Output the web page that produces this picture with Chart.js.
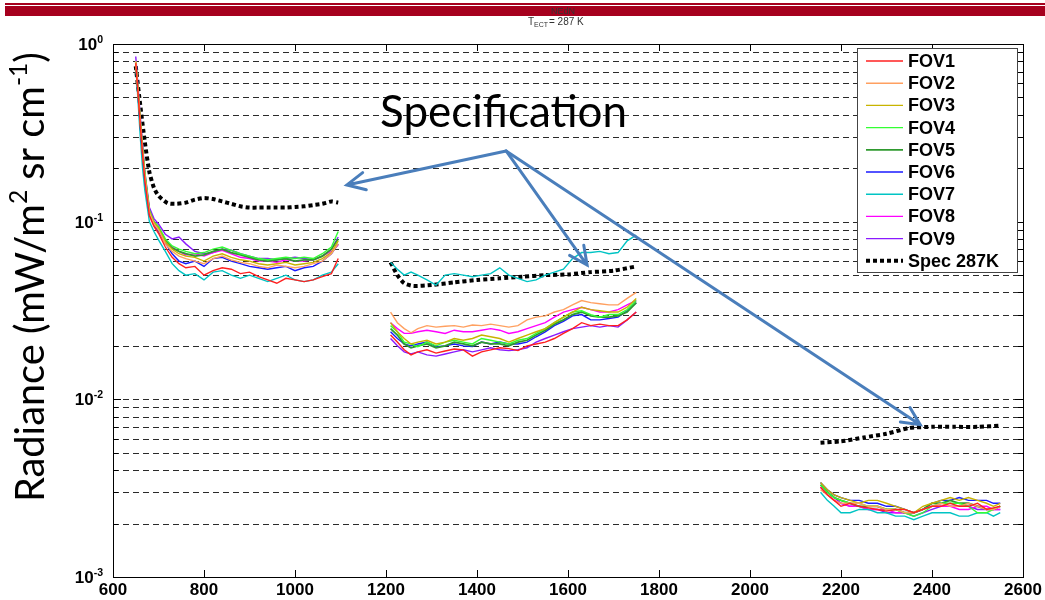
<!DOCTYPE html>
<html>
<head>
<meta charset="utf-8">
<title>NEdN</title>
<script src="https://cdn.jsdelivr.net/npm/chart.js@4.4.1/dist/chart.umd.min.js"></script>
<style>
  html, body { margin: 0; padding: 0; background: #fff; }
  #wrap { width: 1045px; height: 600px; }
</style>
</head>
<body>
<div id="wrap"><canvas id="nedn" width="1045" height="600"></canvas></div>
<script>
// etiquetas de la leyenda
const fovNames = ['FOV1', 'FOV2', 'FOV3', 'FOV4', 'FOV5', 'FOV6', 'FOV7', 'FOV8', 'FOV9'];
const fovColors = ['#ff2020', '#ffa060', '#c8b400', '#33ff33', '#2f9a2f', '#1a1aff', '#00c4c4', '#ff00ff', '#8a1aff'];

// numero de onda (cm-1) de cada banda
const bandX1 = [650, 655, 660, 665, 670, 680, 690, 700, 715, 730, 745, 760, 780, 800, 820, 840, 860, 880, 900, 920, 940, 960, 980, 1000, 1020, 1040, 1060, 1080, 1095];
const bandX2 = [1210, 1225, 1240, 1255, 1270, 1290, 1310, 1330, 1350, 1370, 1390, 1410, 1430, 1450, 1470, 1490, 1510, 1530, 1550, 1570, 1590, 1610, 1630, 1650, 1670, 1690, 1710, 1730, 1750];
const bandX3 = [2155, 2170, 2185, 2200, 2220, 2240, 2260, 2280, 2300, 2320, 2340, 2360, 2380, 2400, 2420, 2440, 2460, 2480, 2500, 2520, 2535, 2550];

// NEdN por FOV, banda LW
const band1Values = [
  [0.78, 0.53, 0.35, 0.24, 0.17, 0.108, 0.094, 0.086, 0.072, 0.063, 0.058, 0.055, 0.056, 0.05, 0.053, 0.055, 0.054, 0.051, 0.052, 0.049, 0.047, 0.045, 0.048, 0.047, 0.046, 0.047, 0.049, 0.051, 0.062],
  [0.8, 0.54, 0.36, 0.25, 0.18, 0.112, 0.097, 0.09, 0.075, 0.068, 0.064, 0.062, 0.06, 0.058, 0.062, 0.064, 0.061, 0.059, 0.058, 0.056, 0.055, 0.057, 0.056, 0.055, 0.056, 0.058, 0.06, 0.066, 0.075],
  [0.79, 0.55, 0.37, 0.25, 0.18, 0.114, 0.099, 0.092, 0.077, 0.07, 0.066, 0.064, 0.063, 0.06, 0.064, 0.066, 0.063, 0.061, 0.06, 0.058, 0.057, 0.058, 0.059, 0.057, 0.058, 0.059, 0.062, 0.067, 0.078],
  [0.8, 0.55, 0.37, 0.26, 0.19, 0.116, 0.1, 0.094, 0.08, 0.073, 0.07, 0.068, 0.066, 0.067, 0.07, 0.072, 0.069, 0.066, 0.064, 0.062, 0.061, 0.062, 0.063, 0.062, 0.063, 0.062, 0.066, 0.072, 0.088],
  [0.79, 0.54, 0.36, 0.25, 0.18, 0.114, 0.099, 0.093, 0.078, 0.071, 0.068, 0.066, 0.064, 0.065, 0.068, 0.07, 0.067, 0.065, 0.063, 0.061, 0.06, 0.061, 0.062, 0.06, 0.061, 0.061, 0.064, 0.07, 0.08],
  [0.78, 0.52, 0.34, 0.24, 0.17, 0.11, 0.096, 0.088, 0.076, 0.066, 0.06, 0.058, 0.06, 0.056, 0.062, 0.063, 0.06, 0.058, 0.056, 0.055, 0.054, 0.055, 0.056, 0.053, 0.055, 0.056, 0.06, 0.066, 0.075],
  [0.77, 0.48, 0.3, 0.2, 0.15, 0.1, 0.088, 0.079, 0.068, 0.058, 0.053, 0.05, 0.051, 0.047, 0.052, 0.053, 0.05, 0.048, 0.05, 0.048, 0.046, 0.048, 0.05, 0.047, 0.046, 0.047, 0.05, 0.052, 0.058],
  [0.8, 0.55, 0.37, 0.26, 0.18, 0.115, 0.1, 0.093, 0.079, 0.072, 0.068, 0.065, 0.066, 0.064, 0.067, 0.069, 0.066, 0.063, 0.062, 0.06, 0.06, 0.059, 0.061, 0.06, 0.06, 0.061, 0.064, 0.068, 0.074],
  [0.85, 0.58, 0.39, 0.27, 0.19, 0.12, 0.104, 0.097, 0.085, 0.08, 0.082, 0.075, 0.068, 0.066, 0.067, 0.07, 0.069, 0.066, 0.064, 0.062, 0.062, 0.061, 0.062, 0.063, 0.062, 0.061, 0.064, 0.07, 0.082]
];

// NEdN por FOV, banda MW
const band2Values = [
  [0.023, 0.021, 0.019, 0.0178, 0.0185, 0.019, 0.0182, 0.0187, 0.0192, 0.019, 0.0175, 0.0185, 0.019, 0.0195, 0.0193, 0.0188, 0.02, 0.0205, 0.021, 0.022, 0.0235, 0.025, 0.027, 0.026, 0.0265, 0.026, 0.026, 0.028, 0.031],
  [0.031, 0.027, 0.025, 0.0237, 0.025, 0.026, 0.0255, 0.0258, 0.026, 0.0255, 0.0262, 0.026, 0.0265, 0.026, 0.0255, 0.026, 0.028, 0.029, 0.0295, 0.031, 0.032, 0.034, 0.036, 0.035, 0.0345, 0.034, 0.034, 0.037, 0.04],
  [0.027, 0.024, 0.022, 0.0205, 0.021, 0.0215, 0.0205, 0.021, 0.022, 0.0215, 0.022, 0.023, 0.0225, 0.022, 0.021, 0.022, 0.023, 0.024, 0.025, 0.027, 0.029, 0.031, 0.033, 0.032, 0.0315, 0.031, 0.031, 0.033, 0.037],
  [0.026, 0.024, 0.021, 0.0205, 0.0198, 0.021, 0.02, 0.021, 0.0215, 0.021, 0.0205, 0.022, 0.0215, 0.021, 0.0205, 0.0215, 0.022, 0.0235, 0.025, 0.027, 0.029, 0.031, 0.0315, 0.03, 0.029, 0.03, 0.03, 0.032, 0.036],
  [0.025, 0.023, 0.0205, 0.0195, 0.02, 0.0205, 0.0195, 0.02, 0.021, 0.0205, 0.02, 0.021, 0.0205, 0.0205, 0.02, 0.021, 0.0215, 0.023, 0.0245, 0.0265, 0.028, 0.03, 0.031, 0.0295, 0.029, 0.029, 0.0295, 0.031, 0.035],
  [0.024, 0.022, 0.0205, 0.02, 0.0205, 0.021, 0.0198, 0.02, 0.0205, 0.02, 0.0198, 0.021, 0.0205, 0.021, 0.0205, 0.0205, 0.021, 0.0225, 0.024, 0.026, 0.0275, 0.0295, 0.03, 0.028, 0.028, 0.0285, 0.029, 0.0315, 0.035],
  [0.059, 0.054, 0.05, 0.052, 0.05, 0.047, 0.044, 0.05, 0.051, 0.05, 0.049, 0.05, 0.051, 0.055, 0.05, 0.048, 0.046, 0.047, 0.05, 0.052, 0.054, 0.062, 0.067, 0.067, 0.068, 0.066, 0.067, 0.078, 0.084],
  [0.027, 0.025, 0.0235, 0.0235, 0.024, 0.0245, 0.024, 0.0235, 0.0245, 0.024, 0.024, 0.0245, 0.025, 0.0245, 0.0235, 0.024, 0.025, 0.026, 0.027, 0.029, 0.031, 0.032, 0.033, 0.032, 0.031, 0.031, 0.032, 0.034, 0.036],
  [0.022, 0.02, 0.0185, 0.018, 0.0185, 0.0178, 0.0175, 0.018, 0.0185, 0.019, 0.0185, 0.019, 0.0195, 0.019, 0.0188, 0.019, 0.0195, 0.021, 0.022, 0.023, 0.024, 0.025, 0.0255, 0.026, 0.0255, 0.026, 0.0255, 0.028, 0.031]
];

// NEdN por FOV, banda SW
const band3Values = [
  [0.0032, 0.0029, 0.0027, 0.0025, 0.0026, 0.0025, 0.00245, 0.0024, 0.00235, 0.0024, 0.0024, 0.0023, 0.0024, 0.0025, 0.0025, 0.0026, 0.0025, 0.0025, 0.0026, 0.0024, 0.00245, 0.0025],
  [0.0031, 0.0029, 0.0027, 0.0026, 0.0026, 0.0026, 0.0025, 0.0025, 0.0024, 0.0024, 0.0023, 0.0023, 0.0024, 0.0025, 0.0026, 0.0025, 0.0025, 0.0026, 0.0025, 0.0024, 0.0024, 0.0025],
  [0.0034, 0.0031, 0.0029, 0.0028, 0.0027, 0.0026, 0.0027, 0.0027, 0.0026, 0.0025, 0.0024, 0.0023, 0.0025, 0.0026, 0.0027, 0.0028, 0.0027, 0.0028, 0.0027, 0.0026, 0.0025, 0.0026],
  [0.0033, 0.003, 0.0028, 0.0027, 0.0026, 0.0026, 0.0025, 0.0025, 0.0024, 0.0024, 0.0023, 0.0022, 0.0023, 0.0025, 0.0026, 0.0026, 0.0026, 0.0025, 0.0023, 0.0023, 0.0024, 0.0025],
  [0.0033, 0.003, 0.0028, 0.0027, 0.0026, 0.0025, 0.0025, 0.0025, 0.0024, 0.0024, 0.0023, 0.0023, 0.0024, 0.0026, 0.0026, 0.0027, 0.0026, 0.0026, 0.0025, 0.0024, 0.0024, 0.0025],
  [0.0034, 0.0031, 0.0029, 0.0028, 0.0027, 0.0027, 0.0026, 0.0026, 0.0025, 0.0025, 0.0024, 0.0023, 0.0024, 0.0026, 0.0027, 0.0027, 0.0028, 0.0027, 0.0027, 0.0027, 0.0026, 0.0026],
  [0.003, 0.0027, 0.0025, 0.0023, 0.0023, 0.0024, 0.0024, 0.0023, 0.0023, 0.0022, 0.0022, 0.0021, 0.0022, 0.0023, 0.0023, 0.0023, 0.0022, 0.0022, 0.0023, 0.0023, 0.0022, 0.0023],
  [0.0032, 0.0029, 0.0027, 0.0026, 0.0025, 0.0025, 0.0024, 0.0024, 0.0024, 0.0023, 0.0023, 0.0023, 0.0024, 0.0025, 0.0025, 0.0025, 0.0024, 0.0024, 0.0025, 0.0025, 0.0024, 0.0024],
  [0.0033, 0.003, 0.0028, 0.0026, 0.0025, 0.0025, 0.0024, 0.0024, 0.0023, 0.0023, 0.0023, 0.0022, 0.0023, 0.0024, 0.0025, 0.0025, 0.0025, 0.0025, 0.0024, 0.0024, 0.0024, 0.0024]
];

// especificacion a 287 K
const specX1 = [650, 660, 670, 680, 690, 700, 720, 740, 760, 780, 800, 820, 840, 860, 880, 900, 920, 940, 960, 980, 1000, 1020, 1040, 1060, 1080, 1095];
const specY1 = [0.75, 0.45, 0.28, 0.19, 0.155, 0.14, 0.127, 0.126, 0.128, 0.133, 0.136, 0.134, 0.13, 0.126, 0.122, 0.12, 0.12, 0.12, 0.12, 0.12, 0.121, 0.122, 0.124, 0.126, 0.13, 0.128];
const specX2 = [1210, 1225, 1240, 1260, 1300, 1350, 1400, 1450, 1500, 1550, 1600, 1650, 1700, 1750];
const specY2 = [0.059, 0.05, 0.045, 0.0435, 0.044, 0.0455, 0.047, 0.048, 0.049, 0.05, 0.0505, 0.052, 0.053, 0.056];
const specX3 = [2155, 2200, 2250, 2300, 2350, 2400, 2450, 2500, 2550];
const specY3 = [0.0057, 0.0058, 0.0061, 0.0064, 0.0069, 0.007, 0.007, 0.007, 0.0071];

// ejes
const xTicks = [600, 800, 1000, 1200, 1400, 1600, 1800, 2000, 2200, 2400, 2600];
const yDecades = [1, 0.1, 0.01, 0.001];
const yDecadeExp = ['0', '-1', '-2', '-3'];

// anotacion: texto y puntas de flecha (en unidades de datos)
const annoText = 'Specification';
const annoTextAt = [1187, 0.34];
const arrowFrom = [1464, 0.25];
const arrowTips = [[1114, 0.161], [1642, 0.057], [2374, 0.0072]];

function puntos(xs, ys) {
  return xs.map((x, j) => ({ x: x, y: ys[j] }));
}

const gap1 = { x: 1150, y: null };
const gap2 = { x: 1950, y: null };

const datasets = fovNames.map((name, i) => ({
  label: name,
  data: [].concat(puntos(bandX1, band1Values[i]), [gap1], puntos(bandX2, band2Values[i]), [gap2], puntos(bandX3, band3Values[i])),
  borderColor: fovColors[i],
  borderWidth: i === 4 ? 1.8 : 1.4,
  pointRadius: 0,
  tension: 0,
  spanGaps: false
}));

datasets.push({
  label: 'Spec 287K',
  data: [].concat(puntos(specX1, specY1), [gap1], puntos(specX2, specY2), [gap2], puntos(specX3, specY3)),
  borderColor: '#000',
  borderWidth: 4,
  borderDash: [4, 3],
  borderCapStyle: 'butt',
  pointRadius: 0,
  tension: 0.2,
  spanGaps: false
});

const fontTxt = '"Liberation Sans", Arial, sans-serif';
const fontHum = 'Lato, "Open Sans", sans-serif';

// dibuja texto con partes en superindice; devuelve ancho
function textoSup(ctx, parts, size, x, y, medir) {
  let w = 0;
  parts.forEach(p => {
    const s = p.sup ? size * 0.62 : size;
    ctx.font = (p.bold ? 'bold ' : '') + s + 'px ' + p.fam;
    if (!medir) ctx.fillText(p.t, x + w, p.sup ? y - size * 0.42 : y);
    w += ctx.measureText(p.t).width;
  });
  return w;
}

const decoracion = {
  id: 'decoracion',
  beforeDraw(chart) {
    const ctx = chart.ctx;
    ctx.save();
    ctx.fillStyle = '#fff';
    ctx.fillRect(0, 0, chart.width, chart.height);
    // franja roja superior
    ctx.fillStyle = '#a6001e';
    ctx.fillRect(5, 3, chart.width - 5, 2);
    ctx.fillRect(5, 6, chart.width - 5, 10);
    // titulo
    ctx.fillStyle = '#333';
    ctx.textAlign = 'center';
    ctx.textBaseline = 'alphabetic';
    ctx.font = '9px ' + fontTxt;
    ctx.fillText('NEdN', 563, 14);
    ctx.textAlign = 'left';
    ctx.font = '10px ' + fontTxt;
    ctx.fillText('T', 528, 25);
    ctx.font = '7px ' + fontTxt;
    ctx.fillText('ECT', 534, 27);
    ctx.font = '10px ' + fontTxt;
    ctx.fillText('= 287 K', 549, 25);
    ctx.restore();
  },
  beforeDatasetsDraw(chart) {
    const ctx = chart.ctx;
    const a = chart.chartArea;
    const ys = chart.scales.y;
    ctx.save();
    ctx.strokeStyle = '#2a2a2a';
    ctx.lineWidth = 1;
    ctx.setLineDash([6, 4]);
    for (let k = -3; k <= -1; k++) {
      for (let m = 1; m <= 9; m++) {
        if (k === -3 && m === 1) continue;
        const y = Math.round(ys.getPixelForValue(m * Math.pow(10, k))) + 0.5;
        ctx.beginPath();
        ctx.moveTo(a.left, y);
        ctx.lineTo(a.right, y);
        ctx.stroke();
      }
    }
    ctx.restore();
  },
  afterDatasetsDraw(chart) {
    const ctx = chart.ctx;
    const a = chart.chartArea;
    const xs = chart.scales.x;
    const ys = chart.scales.y;
    ctx.save();

    // marco y marcas
    ctx.strokeStyle = '#000';
    ctx.lineWidth = 1;
    ctx.strokeRect(Math.round(a.left) + 0.5, Math.round(a.top) + 0.5, Math.round(a.right - a.left), Math.round(a.bottom - a.top));
    ctx.beginPath();
    xTicks.slice(1, -1).forEach(v => {
      const x = Math.round(xs.getPixelForValue(v)) + 0.5;
      ctx.moveTo(x, a.bottom); ctx.lineTo(x, a.bottom - 7);
      ctx.moveTo(x, a.top); ctx.lineTo(x, a.top + 7);
    });
    for (let k = -3; k <= -1; k++) {
      for (let m = 1; m <= 9; m++) {
        const y = Math.round(ys.getPixelForValue(m * Math.pow(10, k))) + 0.5;
        const len = m === 1 ? 8 : 5;
        ctx.moveTo(a.right, y); ctx.lineTo(a.right - len, y);
        ctx.moveTo(a.left, y); ctx.lineTo(a.left + len, y);
      }
    }
    ctx.stroke();

    // etiquetas del eje y
    ctx.fillStyle = '#000';
    ctx.textBaseline = 'alphabetic';
    ctx.textAlign = 'left';
    yDecades.forEach((v, i) => {
      const y = ys.getPixelForValue(v);
      const parts = [{ t: '10', bold: true, fam: fontTxt }, { t: yDecadeExp[i], bold: true, fam: fontTxt, sup: true }];
      const w = textoSup(ctx, parts, 17, 0, 0, true);
      textoSup(ctx, parts, 17, 103 - w, y + 6, false);
    });

    // titulo eje y
    const tParts = [
      { t: 'Radiance (mW/m', fam: fontHum }, { t: '2', fam: fontHum, sup: true },
      { t: ' sr cm', fam: fontHum }, { t: '-1', fam: fontHum, sup: true }, { t: ')', fam: fontHum }
    ];
    const w0 = textoSup(ctx, tParts, 40, 0, 0, true);
    const size = 40 * 450 / w0;
    ctx.translate(44, 502);
    ctx.rotate(-Math.PI / 2);
    textoSup(ctx, tParts, size, 0, 0, false);
    ctx.setTransform(1, 0, 0, 1, 0, 0);

    // anotacion
    ctx.font = '40px ' + fontHum;
    const tw = ctx.measureText(annoText).width;
    ctx.font = (40 * 247 / tw) + 'px ' + fontHum;
    ctx.fillText(annoText, xs.getPixelForValue(annoTextAt[0]), ys.getPixelForValue(annoTextAt[1]));
    const fx = xs.getPixelForValue(arrowFrom[0]);
    const fy = ys.getPixelForValue(arrowFrom[1]);
    ctx.strokeStyle = '#4a7ebb';
    ctx.lineWidth = 3;
    ctx.lineCap = 'round';
    arrowTips.forEach(t => {
      const tx = xs.getPixelForValue(t[0]);
      const ty = ys.getPixelForValue(t[1]);
      const ang = Math.atan2(ty - fy, tx - fx);
      ctx.beginPath();
      ctx.moveTo(fx, fy);
      ctx.lineTo(tx, ty);
      ctx.moveTo(tx - 20 * Math.cos(ang - 0.45), ty - 20 * Math.sin(ang - 0.45));
      ctx.lineTo(tx, ty);
      ctx.lineTo(tx - 20 * Math.cos(ang + 0.45), ty - 20 * Math.sin(ang + 0.45));
      ctx.stroke();
    });
    ctx.lineCap = 'butt';

    // leyenda
    const lx = 857, ly = 48, lw = 160, lh = 224;
    ctx.fillStyle = '#fff';
    ctx.fillRect(lx, ly, lw, lh);
    ctx.strokeStyle = '#444';
    ctx.lineWidth = 1;
    ctx.strokeRect(lx + 0.5, ly + 0.5, lw, lh);
    ctx.textBaseline = 'middle';
    ctx.font = 'bold 18px ' + fontTxt;
    chart.data.datasets.forEach((ds, i) => {
      const y = 61 + i * 22.2;
      ctx.strokeStyle = ds.borderColor;
      ctx.lineWidth = ds.borderDash ? 4 : ds.borderWidth;
      ctx.setLineDash(ds.borderDash || []);
      ctx.beginPath();
      ctx.moveTo(866, y);
      ctx.lineTo(903, y);
      ctx.stroke();
      ctx.setLineDash([]);
      ctx.fillStyle = '#000';
      ctx.fillText(ds.label, 908, y + 1);
    });
    ctx.restore();
  }
};

new Chart(document.getElementById('nedn'), {
  type: 'line',
  data: { datasets: datasets },
  options: {
    responsive: false,
    animation: false,
    devicePixelRatio: 1,
    layout: { padding: { left: 113, right: 22, top: 44, bottom: 0 } },
    plugins: { legend: { display: false }, tooltip: { enabled: false }, title: { display: false } },
    scales: {
      x: {
        type: 'linear',
        min: 600,
        max: 2600,
        afterBuildTicks: (s) => { s.ticks = xTicks.map(v => ({ value: v })); },
        afterFit: (s) => { s.height = 23; },
        grid: { display: false, drawTicks: false },
        border: { display: false },
        ticks: {
          color: '#000',
          font: { family: fontTxt, size: 17, weight: 'bold' },
          padding: 3,
          maxRotation: 0,
          autoSkip: false,
          callback: (v) => String(v)
        }
      },
      y: {
        type: 'logarithmic',
        min: 0.001,
        max: 1,
        display: false
      }
    }
  },
  plugins: [decoracion]
});
</script>
</body>
</html>
